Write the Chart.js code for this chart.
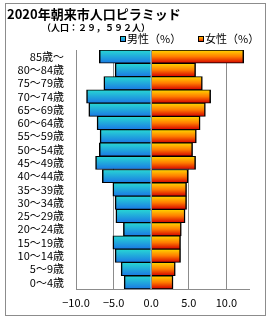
<!DOCTYPE html>
<html>
<head>
<meta charset="utf-8">
<script src="https://cdn.jsdelivr.net/npm/chart.js@4.4.0/dist/chart.umd.min.js"></script>
<style>
  html, body { margin: 0; padding: 0; background: #fff; }
  canvas { display: block; }
</style>
</head>
<body>
<canvas id="pyramidChart" width="270" height="320"></canvas>
<script>
const titleText = '2020年朝来市人口ピラミッド';
const subtitleText = '（人口：２９，５９２人）';
const ageLabels = ['85歳～', '80～84歳', '75～79歳', '70～74歳', '65～69歳', '60～64歳',
    '55～59歳', '50～54歳', '45～49歳', '40～44歳', '35～39歳', '30～34歳',
    '25～29歳', '20～24歳', '15～19歳', '10～14歳', '5～9歳', '0～4歳'];
const maleLabel = '男性（%）';
const femaleLabel = '女性（%）';
const malePct = [6.9, 4.8, 6.3, 8.6, 8.3, 7.2, 6.8, 6.9, 7.4, 6.5, 5.1, 4.8, 4.7, 3.7, 5.1, 4.8, 4.0, 3.6];
const femalePct = [12.3, 5.9, 6.8, 7.9, 7.2, 6.5, 6.0, 5.5, 5.9, 4.9, 4.7, 4.7, 4.5, 4.0, 3.9, 3.9, 3.2, 2.9];
const xTickValues = [-10, -5, 0, 5, 10];

const fontFamily = '"Noto Sans CJK JP", "Noto Sans", sans-serif';
const maleStops = [[0, '#28d8d4'], [1, '#1a78e4']];
const femaleStops = [[0, '#ffd800'], [0.5, '#ff7c00'], [1, '#d40000']];

// gradient per bar row, taken from the category scale
function rowGradient(context, stops) {
    const chart = context.chart;
    const yScale = chart.scales.y;
    if (context.type !== 'data' || !yScale) return stops[0][1];
    const center = yScale.getPixelForValue(context.dataIndex);
    const half = (yScale.bottom - yScale.top) / ageLabels.length / 2;
    if (!Number.isFinite(center) || !Number.isFinite(half) || half <= 0) return stops[0][1];
    const g = chart.ctx.createLinearGradient(0, center - half, 0, center + half);
    stops.forEach(([o, c]) => g.addColorStop(o, c));
    return g;
}

// frame, heading and legend
const header = {
    id: 'header',
    beforeDraw(chart) {
        const ctx = chart.ctx;
        ctx.save();
        ctx.fillStyle = '#fff';
        ctx.fillRect(0, 0, chart.width, chart.height);
        ctx.strokeStyle = '#8c8c8c';
        ctx.lineWidth = 1;
        ctx.strokeRect(5.5, 3.5, 260, 312);
        ctx.restore();
    },
    afterDraw(chart) {
        const ctx = chart.ctx;
        ctx.save();
        ctx.fillStyle = '#000';
        ctx.textBaseline = 'middle';
        ctx.textAlign = 'left';
        ctx.font = 'bold 13px ' + fontFamily;
        ctx.fillText(titleText, 7, 14);
        ctx.font = 'bold 9px ' + fontFamily;
        ctx.fillText(subtitleText, 42, 28);

        const items = [
            { text: chart.data.datasets[0].label, x: 120, stops: maleStops },
            { text: chart.data.datasets[1].label, x: 198, stops: femaleStops }
        ];
        ctx.font = '11px ' + fontFamily;
        items.forEach(it => {
            const g = ctx.createLinearGradient(0, 36, 0, 42);
            it.stops.forEach(([o, c]) => g.addColorStop(o, c));
            ctx.fillStyle = g;
            ctx.fillRect(it.x, 36, 6, 6);
            ctx.strokeStyle = '#000';
            ctx.strokeRect(it.x + 0.5, 36.5, 5, 5);
            ctx.fillStyle = '#000';
            ctx.fillText(it.text, it.x + 7, 39);
        });
        ctx.restore();
    }
};

// gray axis line at zero drawn over the bars
const zeroLine = {
    id: 'zeroLine',
    afterDatasetsDraw(chart) {
        const { ctx, chartArea, scales } = chart;
        const px = Math.round(scales.x.getPixelForValue(0)) + 0.5;
        ctx.save();
        ctx.strokeStyle = '#8c8c8c';
        ctx.lineWidth = 1;
        ctx.beginPath();
        ctx.moveTo(px, chartArea.top);
        ctx.lineTo(px, chartArea.bottom);
        ctx.stroke();
        ctx.restore();
    }
};

const ctx = document.getElementById('pyramidChart').getContext('2d');
new Chart(ctx, {
    type: 'bar',
    data: {
        labels: ageLabels,
        datasets: [{
            label: maleLabel,
            data: malePct.map(v => -v),
            backgroundColor: c => rowGradient(c, maleStops),
            borderColor: '#000',
            borderWidth: { top: 1, bottom: 1, left: 1.5, right: 1.5 },
            categoryPercentage: 1,
            barPercentage: 1
        }, {
            label: femaleLabel,
            data: femalePct,
            backgroundColor: c => rowGradient(c, femaleStops),
            borderColor: '#000',
            borderWidth: { top: 1, bottom: 1, left: 1.5, right: 1.5 },
            categoryPercentage: 1,
            barPercentage: 1
        }]
    },
    options: {
        indexAxis: 'y',
        responsive: false,
        animation: false,
        layout: { padding: { top: 50, right: 21, bottom: 0, left: 0 } },
        plugins: {
            legend: { display: false },
            tooltip: { enabled: false }
        },
        scales: {
            x: {
                stacked: true,
                min: -10,
                max: 13,
                afterFit: s => { s.height = 31; },
                afterBuildTicks: s => { s.ticks = xTickValues.map(v => ({ value: v })); },
                grid: { color: '#8c8c8c', drawTicks: false },
                border: { color: '#8c8c8c' },
                ticks: {
                    padding: 7,
                    color: '#000',
                    font: { family: fontFamily, size: 11 },
                    callback: v => (v < 0 ? '\u2212' : '') + Math.abs(v).toFixed(1)
                }
            },
            y: {
                stacked: true,
                afterFit: s => { s.width = 76; },
                grid: { display: false, drawTicks: false },
                border: { color: '#8c8c8c' },
                ticks: {
                    autoSkip: false,
                    padding: 12,
                    color: '#000',
                    font: { family: fontFamily, size: 11 }
                }
            }
        }
    },
    plugins: [header, zeroLine]
});
</script>
</body>
</html>
